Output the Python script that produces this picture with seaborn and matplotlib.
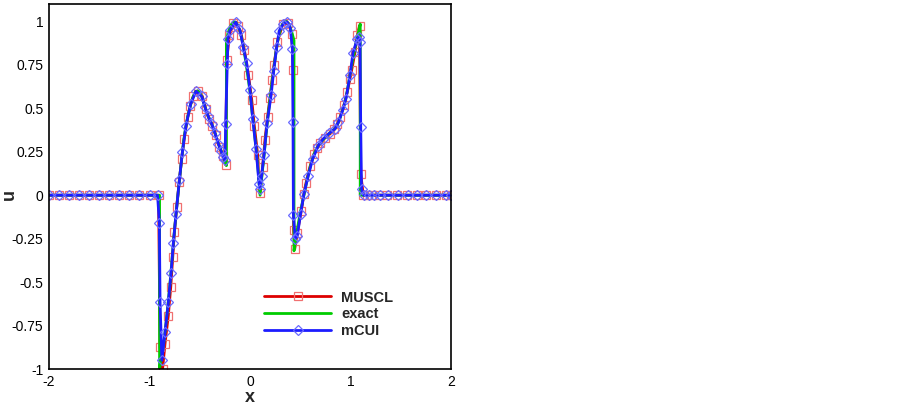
import matplotlib
matplotlib.use("Agg")
import matplotlib.pyplot as plt
import seaborn as sns
from matplotlib.ticker import MultipleLocator, FixedLocator, FixedFormatter

# ---- data ----
muscl_x = [-2.0, -1.9, -1.8, -1.7, -1.6, -1.5, -1.4, -1.3, -1.2, -1.1, -1.0, -0.91,
           -0.895, -0.87, -0.846, -0.813, -0.789, -0.769, -0.752, -0.729, -0.705, -0.68, -0.655, -0.62,
           -0.595, -0.564, -0.52, -0.475, -0.44, -0.408, -0.375, -0.341, -0.305, -0.272, -0.242, -0.232,
           -0.205, -0.166, -0.12, -0.085, -0.055, -0.015, 0.017, 0.043, 0.077, 0.10, 0.126, 0.149,
           0.175, 0.199, 0.22, 0.239, 0.272, 0.325, 0.382, 0.415, 0.431, 0.434, 0.445, 0.47,
           0.51, 0.537, 0.557, 0.60, 0.635, 0.664, 0.70, 0.745, 0.80, 0.84, 0.87, 0.896,
           0.935, 0.968, 0.995, 1.012, 1.045, 1.068, 1.09, 1.102, 1.128, 1.16, 1.21, 1.28,
           1.36, 1.46, 1.56, 1.66, 1.75, 1.85, 1.95, 2.0]
muscl_u = [0, 0, 0, 0, 0, 0, 0, 0, 0, 0, 0, 0,
           -0.875, -1.0, -0.856, -0.693, -0.53, -0.357, -0.21, -0.065, 0.075, 0.21, 0.325, 0.45,
           0.515, 0.57, 0.60, 0.57, 0.495, 0.44, 0.40, 0.345, 0.28, 0.225, 0.175, 0.776,
           0.92, 0.99, 0.975, 0.92, 0.833, 0.69, 0.55, 0.40, 0.23, 0.01, 0.165, 0.32,
           0.45, 0.56, 0.665, 0.75, 0.88, 0.985, 0.99, 0.93, 0.718, -0.203, -0.31, -0.22,
           -0.09, 0.008, 0.07, 0.17, 0.235, 0.27, 0.30, 0.33, 0.355, 0.38, 0.41, 0.449,
           0.52, 0.593, 0.67, 0.72, 0.823, 0.92, 0.975, 0.123, 0.0, 0, 0, 0,
           0, 0, 0, 0, 0, 0, 0, 0]

exact_x = [-2.0, -0.9, -0.9, -0.88, -0.86, -0.84, -0.82, -0.80, -0.78, -0.76, -0.74, -0.72,
           -0.70, -0.68, -0.66, -0.64, -0.62, -0.60, -0.58, -0.56, -0.54, -0.52, -0.50, -0.48,
           -0.46, -0.44, -0.42, -0.40, -0.38, -0.36, -0.34, -0.32, -0.30, -0.28, -0.26, -0.235,
           -0.235, -0.22, -0.20, -0.18, -0.16, -0.14, -0.12, -0.10, -0.08, -0.06, -0.04, -0.02,
           0.0, 0.02, 0.04, 0.06, 0.08, 0.10, 0.12, 0.14, 0.16, 0.18, 0.20, 0.22,
           0.24, 0.26, 0.28, 0.30, 0.32, 0.34, 0.36, 0.38, 0.40, 0.42, 0.438, 0.438,
           0.46, 0.48, 0.50, 0.52, 0.54, 0.56, 0.58, 0.60, 0.62, 0.64, 0.66, 0.68,
           0.70, 0.72, 0.74, 0.76, 0.78, 0.80, 0.82, 0.84, 0.86, 0.88, 0.90, 0.92,
           0.94, 0.96, 0.98, 1.00, 1.02, 1.04, 1.06, 1.08, 1.097, 1.097, 2.0]
exact_u = [0, 0, -1.0, -0.93, -0.86, -0.76, -0.65, -0.53, -0.40, -0.255, -0.13, -0.015,
           0.10, 0.21, 0.315, 0.39, 0.45, 0.50, 0.545, 0.575, 0.597, 0.60, 0.59, 0.568,
           0.53, 0.495, 0.46, 0.435, 0.41, 0.375, 0.345, 0.305, 0.275, 0.245, 0.21, 0.17,
           0.89, 0.93, 0.965, 0.988, 0.998, 0.995, 0.975, 0.945, 0.895, 0.835, 0.76, 0.68,
           0.595, 0.48, 0.38, 0.27, 0.15, 0.0, 0.12, 0.23, 0.35, 0.46, 0.555, 0.655,
           0.74, 0.83, 0.90, 0.95, 0.98, 0.995, 1.0, 0.99, 0.965, 0.93, 0.89, -0.32,
           -0.235, -0.165, -0.10, -0.045, 0.01, 0.065, 0.115, 0.165, 0.205, 0.24, 0.265, 0.285,
           0.30, 0.315, 0.327, 0.338, 0.35, 0.362, 0.372, 0.38, 0.395, 0.42, 0.45, 0.488,
           0.525, 0.575, 0.64, 0.71, 0.77, 0.83, 0.89, 0.94, 0.985, 0.0, 0.0]

mcui_x = [-2.0, -1.9, -1.8, -1.7, -1.6, -1.5, -1.4, -1.3, -1.2, -1.1, -1.0, -0.92,
          -0.902, -0.895, -0.877, -0.846, -0.813, -0.786, -0.763, -0.736, -0.703, -0.673, -0.637, -0.59,
          -0.537, -0.48, -0.448, -0.415, -0.381, -0.348, -0.315, -0.289, -0.266, -0.249, -0.242, -0.226,
          -0.219, -0.199, -0.142, -0.099, -0.067, -0.033, 0.0, 0.027, 0.06, 0.09, 0.10, 0.115,
          0.14, 0.17, 0.21, 0.236, 0.266, 0.29, 0.33, 0.37, 0.40, 0.422, 0.428, 0.432,
          0.45, 0.47, 0.504, 0.537, 0.58, 0.624, 0.68, 0.73, 0.79, 0.847, 0.88, 0.922,
          0.955, 0.995, 1.025, 1.068, 1.085, 1.095, 1.102, 1.11, 1.13, 1.18, 1.23, 1.29,
          1.37, 1.47, 1.57, 1.66, 1.75, 1.85, 1.95, 2.0]
mcui_u = [0, 0, 0, 0, 0, 0, 0, 0, 0, 0, 0, 0,
          -0.159, -0.616, -0.95, -0.789, -0.616, -0.449, -0.276, -0.107, 0.085, 0.248, 0.40, 0.526,
          0.599, 0.568, 0.507, 0.453, 0.411, 0.357, 0.296, 0.257, 0.219, 0.20, 0.411, 0.757,
          0.90, 0.948, 0.996, 0.948, 0.852, 0.76, 0.603, 0.44, 0.267, 0.066, 0.037, 0.11,
          0.234, 0.415, 0.575, 0.716, 0.852, 0.945, 0.985, 0.997, 0.965, 0.843, 0.42, -0.113,
          -0.25, -0.235, -0.107, 0.008, 0.113, 0.209, 0.286, 0.325, 0.357, 0.382, 0.42, 0.488,
          0.555, 0.689, 0.82, 0.90, 0.912, 0.88, 0.39, 0.037, 0, 0, 0, 0,
          0, 0, 0, 0, 0, 0, 0, 0]

y_ticks = [-1, -0.75, -0.5, -0.25, 0, 0.25, 0.5, 0.75, 1]
y_tick_labels = ["-1", "-0.75", "-0.5", "-0.25", "0", "0.25", "0.5", "0.75", "1"]
x_ticks = [-2, -1, 0, 1, 2]

sns.set_style("white")
plt.rcParams["font.family"] = ["Liberation Sans", "DejaVu Sans"]
plt.rcParams["axes.unicode_minus"] = False

fig, ax = plt.subplots(figsize=(9.03, 4.04), dpi=100)
fig.subplots_adjust(left=0.0543, right=0.4994, bottom=0.0866, top=0.990)

sns.lineplot(x=muscl_x, y=muscl_u, sort=False, estimator=None, ax=ax,
             color="#dd0000", linewidth=2.0, marker="s", markersize=5.5,
             markerfacecolor="none", markeredgecolor="#f07070", markeredgewidth=0.9,
             label="MUSCL")
sns.lineplot(x=exact_x, y=exact_u, sort=False, estimator=None, ax=ax,
             color="#00cc00", linewidth=2.0, label="exact")
sns.lineplot(x=mcui_x, y=mcui_u, sort=False, estimator=None, ax=ax,
             color="#1c1cff", linewidth=2.0, marker="D", markersize=5,
             markerfacecolor="none", markeredgecolor="#6a6aff", markeredgewidth=0.9,
             label="mCUI")

ax.set_xlim(-2, 2)
ax.set_ylim(-1, 1.1)
ax.xaxis.set_major_locator(FixedLocator(x_ticks))
ax.xaxis.set_minor_locator(MultipleLocator(0.2))
ax.yaxis.set_major_locator(FixedLocator(y_ticks))
ax.yaxis.set_major_formatter(FixedFormatter(y_tick_labels))
ax.yaxis.set_minor_locator(MultipleLocator(0.05))
ax.tick_params(which="both", direction="in", top=False, right=False,
               colors="black", labelsize=10)
ax.tick_params(which="major", length=7, width=1.1, pad=4)
ax.tick_params(which="minor", length=3.5, width=0.8)
for s in ax.spines.values():
    s.set_color("black")
    s.set_linewidth(1.2)

ax.set_xlabel("x", fontsize=13, fontweight="bold", labelpad=0)
ax.set_ylabel("u", fontsize=13, fontweight="bold")
ax.yaxis.set_label_coords(-0.077, 0.479)

leg = ax.legend(loc="upper left", bbox_to_anchor=(0.535, 0.215), frameon=False,
                prop={"weight": "bold", "size": 10.5}, handlelength=4.6,
                handletextpad=0.7, labelspacing=0.2, borderpad=0, borderaxespad=0)

plt.savefig("out.png", dpi=100)
